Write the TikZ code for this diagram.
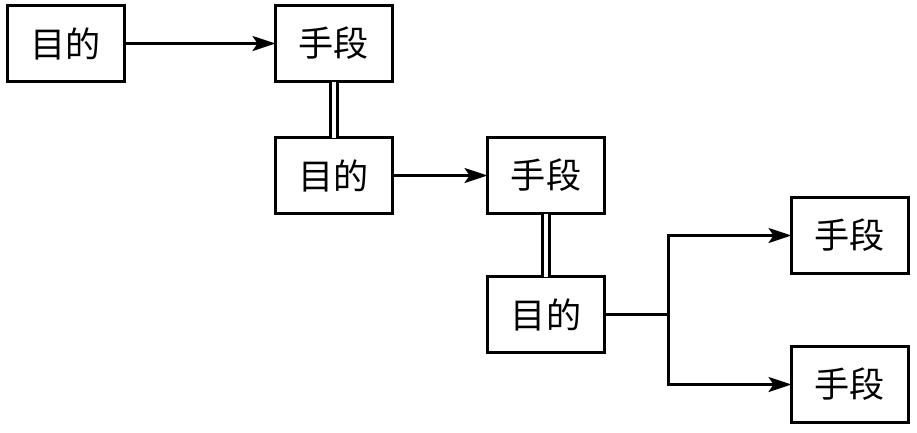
\documentclass[tikz,border=0pt]{standalone}
\usepackage{fontspec}
\setmainfont{Noto Sans CJK SC}
\usetikzlibrary{arrows.meta,positioning,calc}

\begin{document}
\begin{tikzpicture}[
    box/.style={rectangle, draw, line width=0.7pt, minimum width=1.17cm, minimum height=0.76cm, inner sep=0pt, outer sep=0pt, align=center, font=\fontsize{10}{12}\selectfont},
    arrow/.style={-{Stealth[length=2.3mm, width=1.5mm, inset=0.5mm]}, line width=0.7pt},
    link/.style={double, double distance=1.2pt, line width=0.7pt}
]
    \useasboundingbox (0,0) rectangle (9.17,-4.32);

    % first level
    \node[box] (goal1) at (0.66,-0.435) {目的};
    \node[box, right=1.51cm of goal1] (means1) {手段};

    % second level
    \node[box, below=0.56cm of means1] (goal2) {目的};
    \node[box, right=0.95cm of goal2] (means2) {手段};

    % third level
    \node[box, below=0.63cm of means2] (goal3) {目的};
    \node[box, right=1.87cm of goal3, yshift=0.79cm] (means3) {手段};
    \node[box, right=1.87cm of goal3, yshift=-0.70cm] (means4) {手段};

    % branch point
    \coordinate (split) at ($(goal3.east)+(0.64,0)$);

    % Arrows
    \draw[arrow] (goal1) -- (means1);
    \draw[link] (means1) -- (goal2);
    \draw[arrow] (goal2) -- (means2);
    \draw[link] (means2) -- (goal3);
    \draw[line width=0.7pt] (goal3) -- (split);
    \draw[arrow] (split) |- (means3);
    \draw[arrow] (split) |- (means4);

\end{tikzpicture}
\end{document}
